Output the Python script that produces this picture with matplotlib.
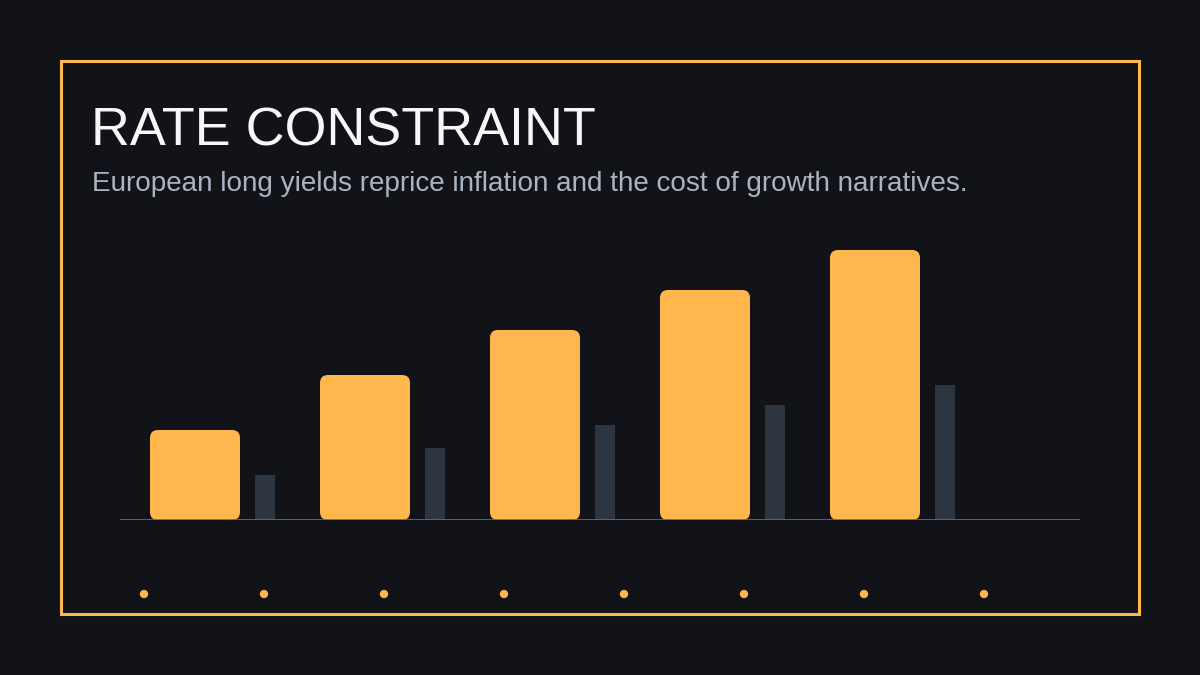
import numpy as np
import matplotlib
matplotlib.use('Agg')
import matplotlib.pyplot as plt
from matplotlib.patches import FancyBboxPatch, Rectangle

plt.rcParams['font.family'] = ['Liberation Sans', 'DejaVu Sans']

# ---- data ----
title = 'RATE CONSTRAINT'
subtitle = 'European long yields reprice inflation and the cost of growth narratives.'
categories = ['P1', 'P2', 'P3', 'P4', 'P5']
long_yield = [1.8, 2.9, 3.8, 4.6, 5.4]      # orange, rounded bars
reference = [0.9, 1.44, 1.9, 2.3, 2.7]      # thin dark bars
n_dots = 8

# ---- style ----
bg = '#111318'
orange = '#FFB74D'
dark_bar = '#2D3540'
axis_col = '#5F6B7A'

W, H, DPI = 1200, 675, 100
fig = plt.figure(figsize=(W / DPI, H / DPI), dpi=DPI, facecolor=bg)

# decoration layer in pixel space
deco = fig.add_axes([0, 0, 1, 1])
deco.set_xlim(0, W)
deco.set_ylim(H, 0)
deco.axis('off')
deco.set_facecolor(bg)
deco.add_patch(Rectangle((61, 61), 1078, 553, fill=False, edgecolor=orange, linewidth=2.2))
deco.text(91, 145, title, fontsize=38.8, color='#F5F7FA', va='baseline', ha='left')
deco.text(92, 191, subtitle, fontsize=20.1, color='#A9B3C1', va='baseline', ha='left')
dot_x = 144 + 120 * np.arange(n_dots)
deco.scatter(dot_x, np.full(n_dots, 594), s=36, color=orange, edgecolors='none')

# chart axes: x 120..1080 px, y 520 (base) .. 240 px
ax_l, ax_r, ax_b, ax_t = 120, 1080, 520, 240
ax = fig.add_axes([ax_l / W, (H - ax_b) / H, (ax_r - ax_l) / W, (ax_b - ax_t) / H])
ax.patch.set_alpha(0)
ax.axis('off')

px_per_x = 170.0          # one category step in pixels
px_per_y = 50.0           # one value unit in pixels
ax.set_xlim(-(195 - ax_l) / px_per_x, (ax_r - 195) / px_per_x)
ax.set_ylim(0, (ax_b - ax_t) / px_per_y)

bar_w = 90 / px_per_x
thin_w = 20 / px_per_x
thin_off = 70 / px_per_x
aspect = px_per_x / px_per_y
r = 8 / px_per_x

x = np.arange(len(categories))
for xi, v in zip(x, long_yield):
    ax.add_patch(FancyBboxPatch((xi - bar_w / 2, 0), bar_w, v,
                                boxstyle=f'round,pad=0,rounding_size={r}',
                                mutation_aspect=aspect,
                                facecolor=orange, edgecolor='none', zorder=2))
ax.bar(x + thin_off, reference, width=thin_w, color=dark_bar, zorder=2)
ax.axhline(0, color=axis_col, linewidth=2.0, zorder=3)

fig.savefig('out.png', dpi=DPI, facecolor=bg)
